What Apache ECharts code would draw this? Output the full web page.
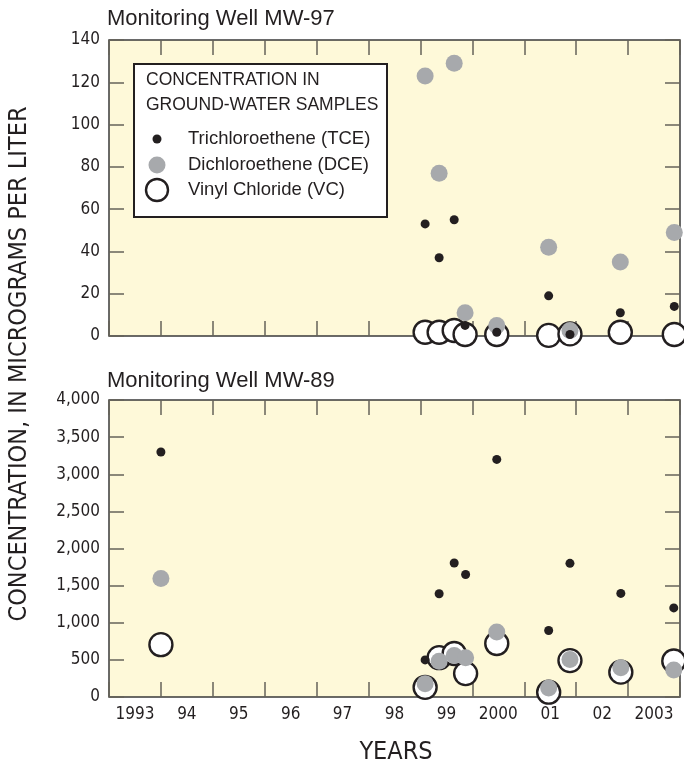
<!DOCTYPE html>
<html>
<head>
<meta charset="utf-8">
<script src="https://cdn.jsdelivr.net/npm/echarts@6/dist/echarts.min.js"></script>
<style>
  html, body { margin: 0; padding: 0; background: #fff; }
  #main { width: 684px; height: 767px; }
</style>
</head>
<body>
<div id="main"></div>
<script>
// year labels sit in the middle of each year band
var yearLabels = ['1993', '94', '95', '96', '97', '98', '99', '2000', '01', '02', '2003'];

// Monitoring Well MW-97 (micrograms per liter)
var mw97Dates = [1999.09, 1999.36, 1999.65, 1999.86, 2000.47, 2001.47, 2001.88, 2002.85, 2003.89];
var mw97TCE = [53, 37, 55, 5, 1.8, 19, 0.7, 11, 14];
var mw97DCE = [123, 77, 129, 11, 5, 42, 2.6, 35, 49];
var mw97VC = [1.8, 1.8, 2.6, 0.7, 0.7, 0.3, 1, 1.8, 0.7];

// Monitoring Well MW-89
var mw89Dates = [1994.0, 1999.09, 1999.36, 1999.65, 1999.87, 2000.47, 2001.47, 2001.88, 2002.86, 2003.88];
var mw89TCE = [3300, 500, 1390, 1805, 1650, 3200, 895, 1800, 1395, 1200];
var mw89DCE = [1595, 180, 480, 560, 530, 875, 120, 505, 395, 365];
var mw89VC = [705, 130, 530, 585, 315, 720, 65, 490, 335, 485];

var ink = '#231f20';
var grey = '#a7a9ac';
var tickColor = '#66635a';
var paper = '#fef9d9';
var sans = '"Liberation Sans", Arial, sans-serif';
var narrow = '"DejaVu Sans Condensed", "Liberation Sans", sans-serif';

function pairs(xs, ys) {
  return xs.map(function (x, i) { return [x, ys[i]]; });
}

function timeAxis(grid, pos) {
  return {
    type: 'value', gridIndex: grid, position: pos,
    min: 1993, max: 2004, interval: 1,
    axisLine: { show: false, onZero: false },
    axisTick: { show: true, inside: true, length: 15, lineStyle: { color: tickColor, width: 1.5 } },
    axisLabel: { show: false },
    splitLine: { show: false }
  };
}

function concAxis(grid, pos, max, step, labels) {
  return {
    type: 'value', gridIndex: grid, position: pos,
    min: 0, max: max, interval: step,
    axisLine: { show: false, onZero: false },
    axisTick: { show: true, inside: true, length: 15, lineStyle: { color: tickColor, width: 1.5 } },
    axisLabel: {
      show: labels, fontSize: 17, color: ink, fontFamily: narrow, margin: 9,
      formatter: function (v) { return v.toLocaleString('en-US'); }
    },
    splitLine: { show: false }
  };
}

function wellSeries(xIdx, yIdx, dates, tce, dce, vc) {
  return [
    { name: 'Vinyl Chloride (VC)', type: 'scatter', xAxisIndex: xIdx, yAxisIndex: yIdx, clip: false,
      symbolSize: 23, itemStyle: { color: '#fff', borderColor: ink, borderWidth: 2.4, opacity: 1 },
      data: pairs(dates, vc) },
    { name: 'Dichloroethene (DCE)', type: 'scatter', xAxisIndex: xIdx, yAxisIndex: yIdx, clip: false,
      symbolSize: 17, itemStyle: { color: grey, opacity: 1 },
      data: pairs(dates, dce) },
    { name: 'Trichloroethene (TCE)', type: 'scatter', xAxisIndex: xIdx, yAxisIndex: yIdx, clip: false,
      symbolSize: 9, itemStyle: { color: ink, opacity: 1 },
      data: pairs(dates, tce) }
  ];
}

var chart = echarts.init(document.getElementById('main'));

var option = {
  animation: false,
  backgroundColor: '#fff',
  title: [
    { text: 'Monitoring Well MW-97', left: 107, top: 8, padding: 0,
      textStyle: { fontSize: 22, fontWeight: 'normal', color: ink, fontFamily: sans } },
    { text: 'Monitoring Well MW-89', left: 107, top: 370, padding: 0,
      textStyle: { fontSize: 22, fontWeight: 'normal', color: ink, fontFamily: sans } }
  ],
  grid: [
    { left: 109, right: 4, top: 40, height: 296, show: true, backgroundColor: paper, borderColor: '#3a3a3a', borderWidth: 1.5 },
    { left: 109, right: 4, top: 400, height: 297, show: true, backgroundColor: paper, borderColor: '#3a3a3a', borderWidth: 1.5 }
  ],
  xAxis: [
    timeAxis(0, 'bottom'),
    timeAxis(0, 'top'),
    timeAxis(1, 'bottom'),
    timeAxis(1, 'top'),
    {
      type: 'category', gridIndex: 1, position: 'bottom', data: yearLabels, boundaryGap: true,
      axisLine: { show: false, onZero: false }, axisTick: { show: false },
      axisLabel: { interval: 0, fontSize: 17, color: ink, fontFamily: narrow, margin: 9 }
    }
  ],
  yAxis: [
    concAxis(0, 'left', 140, 20, true),
    concAxis(0, 'right', 140, 20, false),
    concAxis(1, 'left', 4000, 500, true),
    concAxis(1, 'right', 4000, 500, false)
  ],
  series: [].concat(
    wellSeries(0, 0, mw97Dates, mw97TCE, mw97DCE, mw97VC),
    wellSeries(2, 2, mw89Dates, mw89TCE, mw89DCE, mw89VC)
  ),
  graphic: [
    { type: 'text', x: 19, y: 364, rotation: Math.PI / 2,
      style: { text: 'CONCENTRATION, IN MICROGRAMS PER LITER', fill: ink, fontSize: 25, fontFamily: narrow,
               align: 'center', verticalAlign: 'middle' } },
    { type: 'text', x: 396, y: 752,
      style: { text: 'YEARS', fill: ink, fontSize: 25, fontFamily: narrow, align: 'center', verticalAlign: 'middle' } },
    // legend box
    { type: 'rect', z: 10, shape: { x: 134, y: 64, width: 253, height: 153 },
      style: { fill: '#fff', stroke: ink, lineWidth: 2 } },
    { type: 'text', z: 11, x: 146, y: 80,
      style: { text: 'CONCENTRATION IN', fill: ink, fontSize: 17.5, fontFamily: sans, verticalAlign: 'middle' } },
    { type: 'text', z: 11, x: 146, y: 105,
      style: { text: 'GROUND-WATER SAMPLES', fill: ink, fontSize: 17.5, fontFamily: sans, verticalAlign: 'middle' } },
    { type: 'circle', z: 11, shape: { cx: 157, cy: 139, r: 4.5 }, style: { fill: ink } },
    { type: 'text', z: 11, x: 188, y: 139,
      style: { text: 'Trichloroethene (TCE)', fill: ink, fontSize: 18.5, fontFamily: sans, verticalAlign: 'middle' } },
    { type: 'circle', z: 11, shape: { cx: 157, cy: 165, r: 8.5 }, style: { fill: grey } },
    { type: 'text', z: 11, x: 188, y: 165,
      style: { text: 'Dichloroethene (DCE)', fill: ink, fontSize: 18.5, fontFamily: sans, verticalAlign: 'middle' } },
    { type: 'circle', z: 11, shape: { cx: 157, cy: 190, r: 11 }, style: { fill: '#fff', stroke: ink, lineWidth: 2.4 } },
    { type: 'text', z: 11, x: 188, y: 190,
      style: { text: 'Vinyl Chloride (VC)', fill: ink, fontSize: 18.5, fontFamily: sans, verticalAlign: 'middle' } }
  ]
};

chart.setOption(option);
</script>
</body>
</html>
